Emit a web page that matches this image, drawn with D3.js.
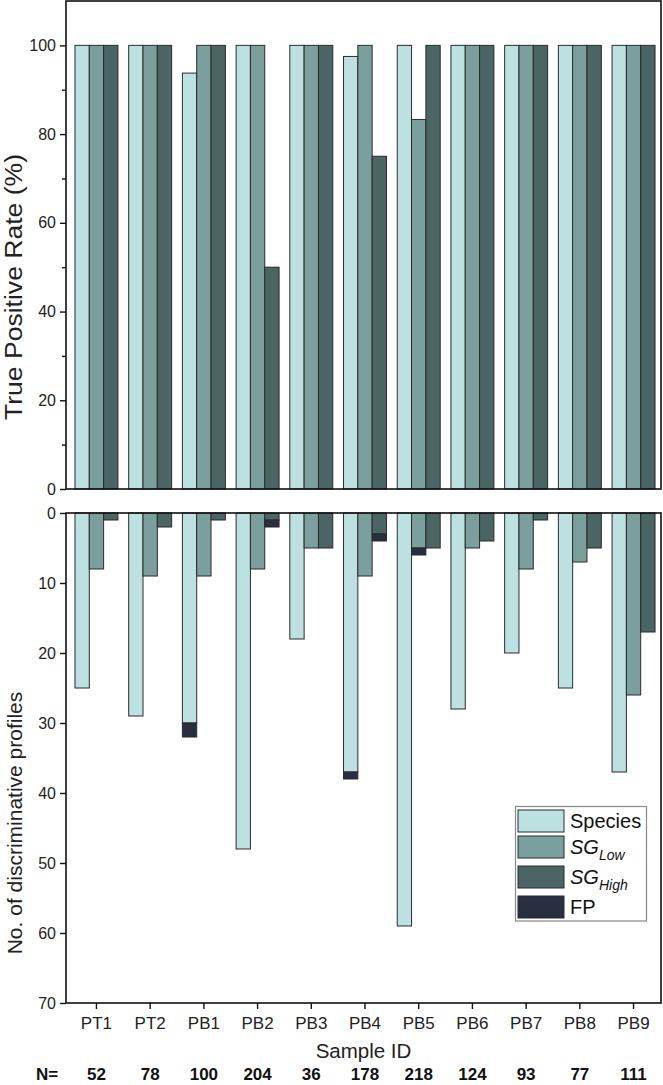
<!DOCTYPE html>
<html>
<head>
  <meta charset="UTF-8">
  <title>True Positive Rate and Discriminative Profiles</title>
  <script src="https://d3js.org/d3.v7.min.js"></script>
  <style>
    body {
      margin: 0;
      background: #fff;
      font-family: "Liberation Sans", Arial, sans-serif;
    }
    .bar {
      stroke: #2b2b2b;
      stroke-width: 1;
    }
    .frame {
      fill: none;
      stroke: #111;
      stroke-width: 1.6;
    }
  </style>
</head>
<body>
  <div id="chart"></div>
  <script>
    // data
    const samples = ["PT1", "PT2", "PB1", "PB2", "PB3", "PB4", "PB5", "PB6", "PB7", "PB8", "PB9"];
    const nValues = [52, 78, 100, 204, 36, 178, 218, 124, 93, 77, 111];

    // top panel: true positive rate (%)
    const tprSpecies = [100, 100, 93.75, 100, 100, 97.5, 100, 100, 100, 100, 100];
    const tprLow     = [100, 100, 100, 100, 100, 100, 83.3, 100, 100, 100, 100];
    const tprHigh    = [100, 100, 100, 50, 100, 75, 100, 100, 100, 100, 100];

    // bottom panel: number of discriminative profiles + false positives stacked below
    const cntSpecies = [25, 29, 30, 48, 18, 37, 59, 28, 20, 25, 37];
    const cntLow     = [8, 9, 9, 8, 5, 9, 5, 5, 8, 7, 26];
    const cntHigh    = [1, 2, 1, 1, 5, 3, 5, 4, 1, 5, 17];
    const fpSpecies  = [0, 0, 2, 0, 0, 1, 0, 0, 0, 0, 0];
    const fpLow      = [0, 0, 0, 0, 0, 0, 1, 0, 0, 0, 0];
    const fpHigh     = [0, 0, 0, 1, 0, 1, 0, 0, 0, 0, 0];

    const seriesKeys = ["Species", "SGLow", "SGHigh"];
    const colors = { Species: "#bde0e0", SGLow: "#7a9f9c", SGHigh: "#4a6563", FP: "#272f40" };

    const W = 663, H = 1085;
    const left = 66, right = 661;
    const top1 = 1, bottom1 = 489;
    const top2 = 513, bottom2 = 1003;

    const svg = d3.select("#chart")
      .append("svg")
      .attr("width", W)
      .attr("height", H);

    const x = d3.scaleBand()
      .domain(samples)
      .range([69.6, 660.4])
      .paddingInner(0.2)
      .paddingOuter(0.1);

    const xSub = d3.scaleBand()
      .domain(seriesKeys)
      .range([0, x.bandwidth()]);

    const yTop = d3.scaleLinear().domain([0, 110]).range([bottom1, top1]);
    const yBot = d3.scaleLinear().domain([0, 70]).range([top2, bottom2]);

    const topRows = samples.map((s, i) => ({
      sample: s,
      values: [
        { key: "Species", v: tprSpecies[i] },
        { key: "SGLow", v: tprLow[i] },
        { key: "SGHigh", v: tprHigh[i] }
      ]
    }));

    const botRows = samples.map((s, i) => ({
      sample: s,
      values: [
        { key: "Species", v: cntSpecies[i], fp: fpSpecies[i] },
        { key: "SGLow", v: cntLow[i], fp: fpLow[i] },
        { key: "SGHigh", v: cntHigh[i], fp: fpHigh[i] }
      ]
    }));

    // ---- top panel bars
    svg.append("g")
      .selectAll(".grp")
      .data(topRows)
      .enter()
      .append("g")
      .attr("transform", d => `translate(${x(d.sample)},0)`)
      .selectAll("rect")
      .data(d => d.values)
      .enter()
      .append("rect")
      .attr("class", "bar")
      .attr("x", d => xSub(d.key))
      .attr("y", d => yTop(d.v))
      .attr("width", xSub.bandwidth())
      .attr("height", d => yTop(0) - yTop(d.v))
      .attr("fill", d => colors[d.key]);

    // ---- bottom panel bars (hanging down from 0), FP stacked beneath
    const grpBot = svg.append("g")
      .selectAll(".grp")
      .data(botRows)
      .enter()
      .append("g")
      .attr("transform", d => `translate(${x(d.sample)},0)`);

    grpBot.selectAll(".main")
      .data(d => d.values)
      .enter()
      .append("rect")
      .attr("class", "bar main")
      .attr("x", d => xSub(d.key))
      .attr("y", yBot(0))
      .attr("width", xSub.bandwidth())
      .attr("height", d => yBot(d.v) - yBot(0))
      .attr("fill", d => colors[d.key]);

    grpBot.selectAll(".fp")
      .data(d => d.values.filter(v => v.fp > 0))
      .enter()
      .append("rect")
      .attr("class", "bar fp")
      .attr("x", d => xSub(d.key))
      .attr("y", d => yBot(d.v))
      .attr("width", xSub.bandwidth())
      .attr("height", d => yBot(d.v + d.fp) - yBot(d.v))
      .attr("fill", colors.FP);

    // ---- frames
    svg.append("rect").attr("class", "frame")
      .attr("x", left).attr("y", top1)
      .attr("width", right - left).attr("height", bottom1 - top1);
    svg.append("rect").attr("class", "frame")
      .attr("x", left).attr("y", top2)
      .attr("width", right - left).attr("height", bottom2 - top2);

    // ---- axes
    const styleAxis = g => {
      g.select(".domain").remove();
      g.selectAll(".tick line").attr("stroke", "#111").attr("stroke-width", 1.4);
      g.selectAll(".tick text")
        .style("font-family", "'Liberation Sans', Arial, sans-serif")
        .style("font-size", "16px")
        .attr("fill", "#222");
    };

    svg.append("g")
      .attr("transform", `translate(${left},0)`)
      .call(d3.axisLeft(yTop).tickValues([10, 30, 50, 70, 90]).tickSize(4).tickFormat(""))
      .call(styleAxis);

    svg.append("g")
      .attr("transform", `translate(${left},0)`)
      .call(d3.axisLeft(yTop).tickValues([0, 20, 40, 60, 80, 100]).tickSize(6).tickPadding(4))
      .call(styleAxis);

    svg.append("g")
      .attr("transform", `translate(${left},0)`)
      .call(d3.axisLeft(yBot).tickValues(d3.range(0, 71, 10)).tickSize(6).tickPadding(4))
      .call(styleAxis);

    const xAxisG = svg.append("g")
      .attr("transform", `translate(0,${bottom2})`)
      .call(d3.axisBottom(x).tickSize(6).tickPadding(5))
      .call(styleAxis);
    xAxisG.selectAll(".tick text").style("font-size", "17px").attr("dy", "0.9em");

    // ---- axis titles
    svg.append("text")
      .attr("transform", "translate(22,287) rotate(-90)")
      .attr("text-anchor", "middle")
      .attr("textLength", 266)
      .attr("lengthAdjust", "spacingAndGlyphs")
      .style("font-size", "23px")
      .attr("fill", "#222")
      .text("True Positive Rate (%)");

    svg.append("text")
      .attr("transform", "translate(22,823) rotate(-90)")
      .attr("text-anchor", "middle")
      .style("font-size", "21px")
      .attr("fill", "#222")
      .text("No. of discriminative profiles");

    svg.append("text")
      .attr("x", (left + right) / 2)
      .attr("y", 1058)
      .attr("text-anchor", "middle")
      .style("font-size", "20.5px")
      .attr("fill", "#222")
      .text("Sample ID");

    // ---- N row
    const nY = 1080;
    svg.append("text")
      .attr("x", 36)
      .attr("y", nY)
      .style("font-size", "17px")
      .style("font-weight", "bold")
      .attr("fill", "#111")
      .text("N=");

    svg.selectAll(".nval")
      .data(samples)
      .enter()
      .append("text")
      .attr("class", "nval")
      .attr("x", d => x(d) + x.bandwidth() / 2)
      .attr("y", nY)
      .attr("text-anchor", "middle")
      .style("font-size", "17px")
      .style("font-weight", "bold")
      .attr("fill", "#111")
      .text((d, i) => nValues[i]);

    // ---- legend
    const legendItems = [
      { key: "Species", main: "Species", sub: "", italic: false, y: 810 },
      { key: "SGLow", main: "SG", sub: "Low", italic: true, y: 836 },
      { key: "SGHigh", main: "SG", sub: "High", italic: true, y: 866 },
      { key: "FP", main: "FP", sub: "", italic: false, y: 896 }
    ];

    const legend = svg.append("g");
    legend.append("rect")
      .attr("x", 515.5).attr("y", 806.5)
      .attr("width", 131).attr("height", 114.5)
      .attr("fill", "#fff")
      .attr("stroke", "#888")
      .attr("stroke-width", 1.2);

    const li = legend.selectAll(".li")
      .data(legendItems)
      .enter()
      .append("g")
      .attr("transform", d => `translate(518,${d.y})`);

    li.append("rect")
      .attr("width", 46)
      .attr("height", 22)
      .attr("fill", d => colors[d.key])
      .attr("stroke", "#2b2b2b")
      .attr("stroke-width", 1);

    const lt = li.append("text")
      .attr("x", 52)
      .attr("y", 18)
      .style("font-size", "20px")
      .attr("fill", "#111");
    lt.append("tspan")
      .style("font-style", d => d.italic ? "italic" : "normal")
      .text(d => d.main);
    lt.filter(d => d.sub)
      .append("tspan")
      .attr("dy", 6)
      .style("font-size", "14px")
      .style("font-style", "italic")
      .text(d => d.sub);
  </script>
</body>
</html>
